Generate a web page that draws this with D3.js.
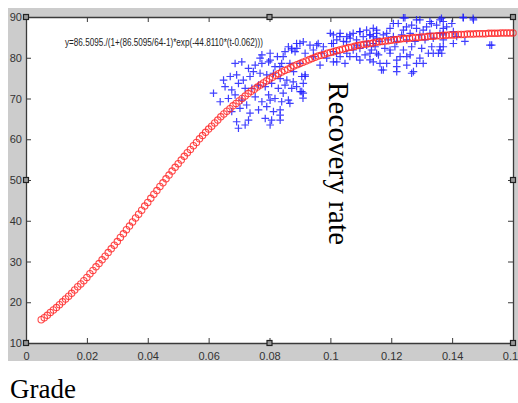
<!DOCTYPE html>
<html>
<head>
<meta charset="utf-8">
<script src="https://cdn.jsdelivr.net/npm/d3@7"></script>
<style>
   body { margin: 0; background: #fff; }
   .axis text { font-family: 'Liberation Sans Narrow', 'Arial Narrow', 'Liberation Sans', sans-serif; font-size: 11px; fill: #333; }
   .axis path, .axis line { stroke: #3a3a3a; }
</style>
</head>
<body>
<svg id="chart"></svg>
<script>
// fitted curve (red circles)
const fitGrade = [
   0.005, 0.006, 0.007, 0.008, 0.009, 0.010, 0.011, 0.012, 0.013, 0.014,
   0.015, 0.016, 0.017, 0.018, 0.019, 0.020, 0.021, 0.022, 0.023, 0.024,
   0.025, 0.026, 0.027, 0.028, 0.029, 0.030, 0.031, 0.032, 0.033, 0.034,
   0.035, 0.036, 0.037, 0.038, 0.039, 0.040, 0.041, 0.042, 0.043, 0.044,
   0.045, 0.046, 0.047, 0.048, 0.049, 0.050, 0.051, 0.052, 0.053, 0.054,
   0.055, 0.056, 0.057, 0.058, 0.059, 0.060, 0.061, 0.062, 0.063, 0.064,
   0.065, 0.066, 0.067, 0.068, 0.069, 0.070, 0.071, 0.072, 0.073, 0.074,
   0.075, 0.076, 0.077, 0.078, 0.079, 0.080, 0.081, 0.082, 0.083, 0.084,
   0.085, 0.086, 0.087, 0.088, 0.089, 0.090, 0.091, 0.092, 0.093, 0.094,
   0.095, 0.096, 0.097, 0.098, 0.099, 0.100, 0.101, 0.102, 0.103, 0.104,
   0.105, 0.106, 0.107, 0.108, 0.109, 0.110, 0.111, 0.112, 0.113, 0.114,
   0.115, 0.116, 0.117, 0.118, 0.119, 0.120, 0.121, 0.122, 0.123, 0.124,
   0.125, 0.126, 0.127, 0.128, 0.129, 0.130, 0.131, 0.132, 0.133, 0.134,
   0.135, 0.136, 0.137, 0.138, 0.139, 0.140, 0.141, 0.142, 0.143, 0.144,
   0.145, 0.146, 0.147, 0.148, 0.149, 0.150, 0.151, 0.152, 0.153, 0.154,
   0.155, 0.156, 0.157, 0.158, 0.159, 0.160,
];
const fitRecovery = [
   15.7, 16.2, 16.8, 17.5, 18.1, 18.7, 19.4, 20.1, 20.8, 21.5,
   22.2, 23.0, 23.8, 24.5, 25.3, 26.1, 27.0, 27.8, 28.7, 29.5,
   30.4, 31.3, 32.2, 33.1, 34.0, 34.9, 35.9, 36.8, 37.8, 38.7,
   39.7, 40.7, 41.6, 42.6, 43.6, 44.5, 45.5, 46.5, 47.4, 48.4,
   49.3, 50.3, 51.2, 52.2, 53.1, 54.0, 54.9, 55.8, 56.7, 57.5,
   58.4, 59.2, 60.1, 60.9, 61.7, 62.5, 63.2, 64.0, 64.7, 65.5,
   66.2, 66.9, 67.5, 68.2, 68.8, 69.4, 70.0, 70.6, 71.2, 71.8,
   72.3, 72.8, 73.3, 73.8, 74.3, 74.8, 75.2, 75.7, 76.1, 76.5,
   76.9, 77.2, 77.6, 78.0, 78.3, 78.6, 78.9, 79.2, 79.5, 79.8,
   80.1, 80.4, 80.6, 80.8, 81.1, 81.3, 81.5, 81.7, 81.9, 82.1,
   82.3, 82.5, 82.6, 82.8, 83.0, 83.1, 83.3, 83.4, 83.5, 83.6,
   83.8, 83.9, 84.0, 84.1, 84.2, 84.3, 84.4, 84.5, 84.6, 84.7,
   84.7, 84.8, 84.9, 85.0, 85.0, 85.1, 85.1, 85.2, 85.3, 85.3,
   85.4, 85.4, 85.5, 85.5, 85.6, 85.6, 85.6, 85.7, 85.7, 85.7,
   85.8, 85.8, 85.8, 85.9, 85.9, 85.9, 85.9, 86.0, 86.0, 86.0,
   86.0, 86.1, 86.1, 86.1, 86.1, 86.1,
];

// measured samples (blue plus markers)
const sampleGrade = [
   0.0775, 0.0802, 0.0826, 0.0851, 0.0873, 0.0890, 0.0862,
   0.0687, 0.0709, 0.0731, 0.0753, 0.0775, 0.0797, 0.0818, 0.0840,
   0.0649, 0.0671, 0.0692, 0.0714, 0.0736, 0.0747, 0.0769, 0.0791, 0.0813, 0.0835, 0.0857, 0.0879,
   0.0616, 0.0654, 0.0676, 0.0698, 0.0720, 0.0742, 0.0764, 0.0786, 0.0807, 0.0829, 0.0851, 0.0873, 0.0901,
   0.0638, 0.0665, 0.0687, 0.0709, 0.0725, 0.0753, 0.0775, 0.0797, 0.0818, 0.0840, 0.0862,
   0.0676, 0.0703, 0.0736, 0.0764, 0.0791, 0.0813, 0.0835,
   0.0692, 0.0731, 0.0786, 0.0807, 0.0835,
   0.0698, 0.0720, 0.0802, 0.0835,
   0.0900, 0.0873, 0.0845, 0.0802, 0.0769, 0.0834, 0.0867, 0.0900, 0.0917, 0.0889, 0.0845, 0.0802, 0.0867, 0.0911,
   0.0906, 0.0906, 0.0910,
   0.0889, 0.0911, 0.0933, 0.0960, 0.0977, 0.0884, 0.0917, 0.0944, 0.0972, 0.0988,
   0.1010, 0.1032, 0.1054, 0.1075, 0.1097, 0.1119, 0.1141,
   0.1021, 0.1043, 0.1065, 0.1086, 0.1108, 0.1130, 0.1152, 0.1004,
   0.1010, 0.1032, 0.1054, 0.1075, 0.1097, 0.1119, 0.1141,
   0.1021, 0.1048, 0.1086, 0.1114, 0.1135, 0.1152, 0.1130,
   0.0917, 0.0878, 0.0911,
   0.1245, 0.1294, 0.1327, 0.1360, 0.1223, 0.1267, 0.1196, 0.1152, 0.1240, 0.1283, 0.1316, 0.1349, 0.1382, 0.1399,
   0.1141, 0.1174, 0.1207, 0.1234, 0.1262, 0.1294, 0.1327, 0.1360, 0.1163, 0.1190, 0.1218, 0.1251, 0.1278, 0.1311, 0.1338, 0.1371,
   0.1147, 0.1179, 0.1212, 0.1240, 0.1267, 0.1300, 0.1333, 0.1360, 0.1158, 0.1196, 0.1229, 0.1262, 0.1294, 0.1322, 0.1355,
   0.1141, 0.1185, 0.1218, 0.1251, 0.1283, 0.1168, 0.1218, 0.1267,
   0.1437, 0.1470, 0.1371, 0.1371, 0.1404, 0.1371, 0.1415, 0.1442, 0.1404, 0.1371, 0.1530, 0.1366,
   0.1000, 0.1031, 0.1064, 0.1097, 0.1130, 0.1010, 0.1053, 0.1086, 0.1119, 0.1152, 0.1185,
   0.1207, 0.1240, 0.1250, 0.1283, 0.1305, 0.1332, 0.1365, 0.1371, 0.1436, 0.1469, 0.1524,
   0.1020, 0.1064, 0.1097, 0.1130, 0.1163, 0.1196, 0.1218, 0.1251, 0.1273, 0.1305, 0.1338, 0.1360,
   0.1174, 0.1010, 0.0966, 0.0945, 0.0955,
];
const sampleRecovery = [
   80.7, 81.1, 80.3, 81.5, 81.9, 82.3, 82.7,
   78.6, 79.0, 77.4, 78.2, 78.6, 79.0, 77.8, 78.6,
   74.5, 75.4, 75.8, 74.5, 75.4, 76.6, 76.2, 75.8, 76.2, 74.9, 74.5, 76.6,
   71.3, 72.9, 72.1, 73.7, 72.5, 72.5, 73.3, 72.9, 73.7, 72.5, 73.3, 72.5, 71.7,
   69.2, 70.0, 70.9, 69.6, 68.4, 70.4, 69.2, 70.9, 70.0, 69.2, 69.6,
   66.8, 67.6, 66.4, 67.2, 68.0, 66.8, 67.2,
   64.3, 64.7, 65.1, 64.7, 65.9,
   62.7, 63.5, 63.5, 64.7,
   83.5, 82.3, 80.3, 79.4, 79.9, 77.8, 78.6, 78.6, 75.4, 72.9, 71.3, 69.6, 68.8, 71.3,
   75.4, 71.7, 70.1,
   83.5, 83.9, 83.1, 83.5, 82.7, 81.5, 81.1, 81.9, 81.1, 79.9,
   85.6, 86.0, 85.2, 86.0, 86.4, 86.8, 87.2,
   84.4, 84.0, 84.8, 84.4, 85.2, 85.6, 86.0, 83.5,
   81.5, 80.3, 81.1, 81.9, 82.3, 83.1, 83.5,
   79.0, 78.6, 80.3, 80.7, 81.9, 81.1, 79.5,
   75.8, 74.1, 73.7,
   89.8, 89.3, 88.9, 89.3, 88.4, 88.0, 87.2, 86.8, 86.8, 87.2, 87.6, 88.0, 87.6, 88.4,
   85.2, 85.6, 85.2, 85.6, 86.0, 85.6, 86.0, 86.0, 84.0, 84.4, 84.0, 84.4, 84.0, 84.4, 84.8, 84.4,
   82.7, 82.3, 82.7, 81.9, 82.7, 82.3, 82.7, 81.9, 80.7, 81.1, 80.3, 80.7, 79.9, 81.1, 81.1,
   79.0, 78.6, 79.4, 78.2, 78.6, 77.0, 76.6, 76.2,
   89.8, 89.3, 88.9, 87.2, 86.4, 85.6, 85.2, 84.0, 83.5, 82.7, 83.1, 81.1,
   86.0, 85.2, 85.6, 86.4, 85.6, 83.5, 83.9, 83.1, 83.9, 84.8, 86.0,
   88.4, 89.8, 87.6, 89.3, 86.8, 88.4, 89.7, 86.0, 89.9, 89.7, 83.1,
   81.1, 80.3, 79.4, 81.1, 78.6, 81.9, 77.8, 80.3, 76.6, 78.6, 81.1, 82.7,
   77.0, 79.0, 78.2, 80.3, 83.1,
];

const gradeTicks = [0, 0.02, 0.04, 0.06, 0.08, 0.1, 0.12, 0.14, 0.16];
const gradeTickLabels = ['0', '0.02', '0.04', '0.06', '0.08', '0.1', '0.12', '0.14', '0.16'];
const recoveryTicks = [10, 20, 30, 40, 50, 60, 70, 80, 90];
const recoveryTickLabels = ['10', '20', '30', '40', '50', '60', '70', '80', '90'];

const equationText = 'y=86.5095./(1+(86.5095/64-1)*exp(-44.8110*(t-0.062)))';
const yTitle = 'Recovery rate';
const xTitle = 'Grade';

class FitPlot {
   constructor(_config) {
      this.config = {
         parentElement: _config.parentElement,
         containerWidth: _config.containerWidth || 518,
         containerHeight: _config.containerHeight || 403,
         margin: { top: 17, right: 5, bottom: 60, left: 26 },
      };
      this.initVis();
   }

   initVis() {
      const vis = this;
      const c = vis.config;
      vis.width = c.containerWidth - c.margin.left - c.margin.right;
      vis.height = c.containerHeight - c.margin.top - c.margin.bottom;

      vis.svg = d3
         .select(c.parentElement)
         .attr('width', c.containerWidth)
         .attr('height', c.containerHeight);

      // grey figure window
      vis.svg
         .append('rect')
         .attr('x', 8)
         .attr('y', 8)
         .attr('width', c.containerWidth - 8)
         .attr('height', 353)
         .attr('fill', '#cccccc');

      vis.chart = vis.svg
         .append('g')
         .attr('transform', `translate(${c.margin.left}, ${c.margin.top})`);

      vis.chart
         .append('rect')
         .attr('width', vis.width)
         .attr('height', vis.height)
         .attr('fill', '#fff');

      vis.xScale = d3.scaleLinear().domain([0, 0.16]).range([0, vis.width]);
      vis.yScale = d3.scaleLinear().domain([10, 90]).range([vis.height, 0]);

      const xLabel = (d) => gradeTickLabels[gradeTicks.indexOf(d)];
      const yLabel = (d) => recoveryTickLabels[recoveryTicks.indexOf(d)];

      // ticks point inwards on all four sides
      vis.chart
         .append('g')
         .attr('class', 'axis x-axis')
         .attr('transform', `translate(0, ${vis.height})`)
         .call(d3.axisBottom(vis.xScale).tickValues(gradeTicks).tickFormat(xLabel)
            .tickSize(-5).tickSizeOuter(0).tickPadding(9));
      vis.chart
         .append('g')
         .attr('class', 'axis x-axis-top')
         .call(d3.axisTop(vis.xScale).tickValues(gradeTicks).tickFormat('')
            .tickSize(-5).tickSizeOuter(0));
      vis.chart
         .append('g')
         .attr('class', 'axis y-axis')
         .call(d3.axisLeft(vis.yScale).tickValues(recoveryTicks).tickFormat(yLabel)
            .tickSize(-5).tickSizeOuter(0).tickPadding(4));
      vis.chart
         .append('g')
         .attr('class', 'axis y-axis-right')
         .attr('transform', `translate(${vis.width}, 0)`)
         .call(d3.axisRight(vis.yScale).tickValues(recoveryTicks).tickFormat('')
            .tickSize(-5).tickSizeOuter(0));

      vis.chart.selectAll('.axis path').attr('stroke-width', 1.3);

      vis.updateVis();
   }

   updateVis() {
      const vis = this;

      vis.chart
         .append('g')
         .selectAll('path')
         .data(sampleGrade.map((g, i) => ({ grade: g, recovery: sampleRecovery[i] })))
         .join('path')
         .attr('transform', (d) => `translate(${vis.xScale(d.grade)}, ${vis.yScale(d.recovery)})`)
         .attr('d', 'M-3.8,0H3.8M0,-3.8V3.8')
         .attr('stroke', '#1f1fff')
         .attr('stroke-width', 1.2)
         .attr('opacity', 0.85)
         .attr('fill', 'none');

      vis.chart
         .append('g')
         .selectAll('circle')
         .data(fitGrade.map((g, i) => ({ grade: g, recovery: fitRecovery[i] })))
         .join('circle')
         .attr('cx', (d) => vis.xScale(d.grade))
         .attr('cy', (d) => vis.yScale(d.recovery))
         .attr('r', 3.2)
         .attr('fill', 'none')
         .attr('stroke', '#ff2a2a')
         .attr('stroke-width', 1.1)
         .attr('opacity', 0.85);

      vis.chart
         .append('text')
         .attr('x', 39)
         .attr('y', 28.5)
         .attr('textLength', 198)
         .attr('lengthAdjust', 'spacingAndGlyphs')
         .style('font-family', "'Liberation Sans Narrow', 'Liberation Sans', sans-serif")
         .style('font-size', '10px')
         .attr('fill', '#222')
         .text(equationText);

      // selection handles of the axes box
      const hx = [0, vis.width / 2, vis.width];
      const hy = [0, vis.height / 2, vis.height];
      const handles = [];
      hx.forEach((x) => hy.forEach((y) => {
         if (!(x === vis.width / 2 && y === vis.height / 2)) handles.push([x, y]);
      }));
      vis.chart
         .append('g')
         .selectAll('rect')
         .data(handles)
         .join('rect')
         .attr('x', (d) => d[0] - 2.5)
         .attr('y', (d) => d[1] - 2.5)
         .attr('width', 5)
         .attr('height', 5)
         .attr('fill', '#999')
         .attr('stroke', '#222')
         .attr('stroke-width', 1.2);

      vis.renderVis();
   }

   renderVis() {
      // document text laid over the figure
      this.svg
         .append('text')
         .attr('transform', 'translate(329, 82) rotate(90)')
         .attr('textLength', 163)
         .style('font-family', "'Liberation Serif', 'Times New Roman', serif")
         .style('font-size', '29px')
         .attr('fill', '#000')
         .text(yTitle);

      this.svg
         .append('text')
         .attr('x', 10)
         .attr('y', 398)
         .style('font-family', "'Liberation Serif', 'Times New Roman', serif")
         .style('font-size', '27px')
         .attr('fill', '#000')
         .text(xTitle);
   }
}

new FitPlot({ parentElement: '#chart' });
</script>
</body>
</html>
